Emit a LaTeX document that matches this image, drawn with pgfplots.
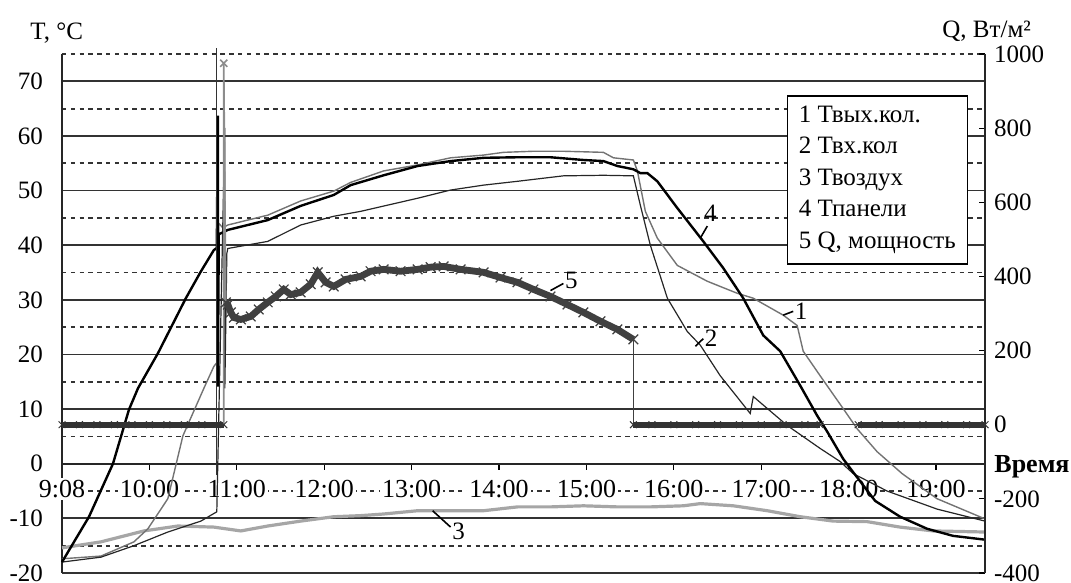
\documentclass[border=0pt]{standalone}
\usepackage{fontspec}
\setmainfont{Liberation Serif}
\usepackage{pgfplots}
\pgfplotsset{compat=1.18}

\begin{document}
\begin{tikzpicture}[font=\fontsize{12.5}{15}\selectfont]
\path[use as bounding box] (-31pt,-5pt) rectangle (504.5pt,286.5pt);
\begin{axis}[
  at={(0,0)}, anchor=south west,
  scale only axis, width=461.5pt, height=259.5pt,
  xmin=0, xmax=10.56, ymin=-20, ymax=75,
  axis x line*=middle, axis y line*=left,
  hide obscured x ticks=false, hide obscured y ticks=false,
  x axis line style={-, black!85, line width=0.8pt},
  y axis line style={-, black!85, line width=0.8pt},
  xtick={0,...,10},
  xticklabels={9:08,10:00,11:00,12:00,13:00,14:00,15:00,16:00,17:00,18:00,19:00},
  xticklabel style={fill=white, inner sep=1pt, yshift=-4pt, font=\fontsize{13}{15}\selectfont},
  ytick={-20,-10,...,70},
  minor ytick={-15,-5,...,75},
  ymajorgrids, yminorgrids,
  major grid style={black!80, line width=0.9pt},
  minor grid style={black!80, line width=0.9pt, dash pattern=on 2.2pt off 2.2pt},
  ytick style={draw=none},
  minor tick length=0pt,
  xtick style={black, line width=0.6pt},
  tick align=outside, major tick length=3pt,
  yticklabel style={xshift=-3pt},
  /pgf/number format/assume math mode=true,
  /pgf/number format/1000 sep={},
  clip=false,
]
% 3 air temperature
\addplot[color=black!35, line width=1.6pt] coordinates {
(0,-15.4) (0.446,-14.3) (0.937,-12.3) (1.326,-11.4) (1.737,-11.6) (2.046,-12.3)
(2.354,-11.4) (2.731,-10.5) (3.109,-9.7) (3.417,-9.5) (3.68,-9.2) (4.069,-8.6)
(4.446,-8.6) (4.823,-8.6) (5.211,-7.9) (5.589,-7.9) (5.966,-7.7) (6.354,-7.9)
(6.731,-7.9) (7.109,-7.7) (7.303,-7.3) (7.68,-7.7) (8.069,-8.6) (8.446,-9.7)
(8.823,-10.5) (9.211,-10.6) (9.589,-11.6) (9.966,-12.3) (10.56,-12.5)};
% 1 collector outlet
\addplot[color=black!55, line width=0.7pt] coordinates {
(0,-17.4) (0.446,-16.9) (0.823,-14.3) (0.983,-11.9) (1.211,-6.4) (1.383,5.1)
(1.623,13.8) (1.737,17.8) (1.771,18.5) (1.794,44) (1.84,43.2) (1.897,43.7)
(2.354,45.5) (2.731,48.1) (3.109,49.9) (3.303,51.5) (3.68,53.6) (4.069,54.7)
(4.446,56) (4.823,56.5) (5.051,57) (5.394,57.2) (5.737,57.2) (6.194,57)
(6.309,56) (6.537,55.6) (6.583,53.6) (6.674,46.2) (6.811,41.3) (7.04,36.3)
(7.383,33.4) (7.726,31.2) (7.909,30.3) (8.251,27.2) (8.411,25.3) (8.48,20.6)
(8.674,16.1) (8.937,10.1) (9.097,6.4) (9.326,2.2) (9.611,-1.8) (10.011,-6.4)
(10.56,-10.1)};
% 2 collector inlet
\addplot[color=black!85, line width=0.6pt] coordinates {
(0,-18) (0.446,-17.1) (0.823,-15) (1.211,-12.5) (1.589,-10.5) (1.771,-8.8)
(1.863,61.5) (1.863,13.8) (1.886,38.5) (1.897,39.4) (2.354,40.7) (2.731,43.7)
(3.109,45.3) (3.417,46.2) (4.069,48.6) (4.446,50.1) (4.823,51) (5.211,51.7)
(5.737,52.7) (6.194,52.8) (6.537,52.7) (6.617,47.3) (6.731,40) (6.926,30.3)
(7.154,24.2) (7.303,21.7) (7.531,16.1) (7.874,9.2) (7.909,12.3) (8.297,7.0)
(8.674,2.8) (8.903,0.4) (9.051,-1.8) (9.44,-5.0) (10.011,-8.3) (10.56,-10.5)};
% 4 panel
\addplot[color=black, line width=1.2pt] coordinates {
(0,-18) (0.309,-9.7) (0.583,0) (0.766,9.9) (0.869,13.8) (1.097,20.2)
(1.417,30.3) (1.589,35.2) (1.737,39.1) (1.771,39.5) (1.783,63.7) (1.783,14.1)
(1.794,42) (1.897,42.8) (2.354,44.6) (2.731,47.2) (3.109,49.2) (3.303,51)
(3.68,52.8) (4.069,54.5) (4.446,55.4) (4.823,56) (5.211,56.1) (5.589,56.1)
(5.966,55.6) (6.194,55.4) (6.354,54.5) (6.537,53.9) (6.617,53.2) (6.697,53.2)
(6.811,51.7) (7.04,46.8) (7.337,40.7) (7.566,35.8) (7.794,30.3) (8.023,23.5)
(8.217,20.6) (8.446,14.3) (8.64,8.8) (8.754,5.9) (8.937,0.9) (9.04,-1.3)
(9.303,-6.8) (9.589,-9.7) (9.897,-11.9) (10.194,-13.2) (10.56,-13.9)};
% switch-on line at 11:00
\addplot[color=black!80, line width=0.6pt] coordinates {(1.771,-2) (1.771,76.1)};
% callouts
\draw[line width=0.8pt] (axis cs:7.303,41.3) -- (axis cs:7.383,43.5);
\node at (axis cs:7.417,45.9) {4};
\draw[line width=0.8pt] (axis cs:8.251,27.2) -- (axis cs:8.366,27.9);
\node[anchor=west, inner sep=0.5pt] at (axis cs:8.37,27.9) {1};
\draw[line width=0.8pt] (axis cs:7.246,21.5) -- (axis cs:7.337,22.9);
\node[anchor=west, inner sep=0.5pt] at (axis cs:7.34,22.9) {2};
\draw[line width=0.8pt] (axis cs:5.589,31.7) -- (axis cs:5.737,33.0);
\node[anchor=west, inner sep=0.5pt] at (axis cs:5.74,33.6) {5};
\draw[line width=0.8pt] (axis cs:4.24,-8.6) -- (axis cs:4.446,-11.6);
\node[anchor=west, inner sep=0.5pt] at (axis cs:4.45,-12.3) {3};
\end{axis}

\begin{axis}[
  at={(0,0)}, anchor=south west,
  scale only axis, width=461.5pt, height=259.5pt,
  xmin=0, xmax=10.56, ymin=-400, ymax=1000,
  axis x line=none, axis y line*=right,
  y axis line style={-, black!85, line width=0.8pt},
  ytick={-400,-200,...,1000},
  tick align=inside, major tick length=3pt,
  ytick style={black, line width=0.6pt},
  yticklabel style={xshift=1pt},
  /pgf/number format/assume math mode=true,
  /pgf/number format/1000 sep={},
  clip=false,
]
% 5 power Q
\addplot[color=black!80, line width=3.2pt, mark=x, mark size=2.4pt, mark options={solid, line width=0.5pt}] coordinates {
(0,0) (0.2,0) (0.4,0) (0.6,0) (0.8,0) (1.0,0) (1.2,0) (1.4,0) (1.6,0) (1.851,0)};
\addplot[color=black!45, line width=0.8pt, mark=x, mark size=2.5pt, mark indices={2}, mark options={solid}] coordinates {
(1.851,0) (1.851,975) (1.874,330)};
\addplot[color=black!75, line width=3.4pt, mark=x, mark size=3.4pt, mark options={solid, line width=0.6pt}] coordinates {
(1.874,330) (1.897,324) (1.931,303) (1.966,289) (2.046,284) (2.16,292) (2.251,311)
(2.354,330) (2.446,346) (2.537,365) (2.617,351) (2.731,357) (2.846,379) (2.926,411)
(3.017,384) (3.109,373) (3.246,392) (3.417,400) (3.531,414) (3.68,419) (3.874,414)
(4.069,419) (4.217,425) (4.366,427) (4.56,419) (4.823,411) (5.017,397) (5.211,384)
(5.394,365) (5.589,346) (5.783,324) (5.966,303) (6.16,279) (6.354,257) (6.537,230)};
\addplot[color=black!75, line width=0.6pt] coordinates {(6.537,230) (6.537,0)};
\addplot[color=black!80, line width=3.2pt, mark=x, mark size=2.4pt, mark options={solid, line width=0.5pt}] coordinates {
(6.537,0) (6.75,0) (7.0,0) (7.25,0) (7.5,0) (7.75,0) (8.0,0) (8.25,0) (8.5,0) (8.674,0)};
\addplot[color=black!75, line width=0.6pt] coordinates {(8.674,0) (9.109,0)};
\addplot[color=black!80, line width=3.2pt, mark=x, mark size=2.4pt, mark options={solid, line width=0.5pt}] coordinates {
(9.109,0) (9.35,0) (9.6,0) (9.85,0) (10.1,0) (10.35,0) (10.56,0)};
\node[draw=black, line width=0.8pt, fill=white, anchor=north west, align=left,
      minimum width=90pt, minimum height=84pt,
      font=\fontsize{12.5}{15.75}\selectfont] at (rel axis cs:0.785,0.921)
  {1 Твых.кол.\\2 Твх.кол\\3 Твоздух\\4 Тпанели\\5 Q, мощность};
\end{axis}

\node[anchor=base west, inner sep=0pt] at (-16pt,266.5pt) {T, °C};
\node[anchor=base west, inner sep=0pt] at (440pt,267.5pt) {Q, Вт/м²};
\node[anchor=base west, inner sep=0pt, font=\bfseries\fontsize{13}{15}\selectfont] at (466pt,50pt) {Время};
\end{tikzpicture}
\end{document}
